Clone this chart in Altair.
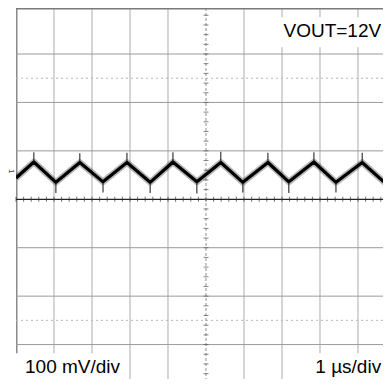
import altair as alt
import pandas as pd

# ---- data ----
# time in microseconds (1 us/div), voltage in mV relative to centre line (100 mV/div)
trace_t = [0.0, 0.47, 1.05, 1.68, 2.29, 2.92, 3.53, 4.13, 4.76, 5.39, 5.97, 6.63, 7.18, 7.84, 8.42, 9.11, 9.68, 9.87]
trace_v = [44, 77, 35, 76, 36, 76, 35, 77, 36, 76, 35, 76, 36, 77, 35, 76, 36, 49]

peak_t = [0.47, 1.68, 2.92, 4.13, 5.39, 6.63, 7.84, 9.11]
peak_v = [77, 76, 76, 77, 76, 76, 77, 76]
peak_spike = [97, 95, 96, 97, 98, 96, 97, 96]
trough_t = [1.05, 2.29, 3.53, 4.76, 5.97, 7.18, 8.42]
trough_v = [35, 36, 35, 36, 35, 36, 35]
trough_spike = [13, 14, 13, 12, 14, 13, 14]

grid_t = [1, 2, 3, 4, 6, 7, 8, 9]
grid_v = [300, 200, 100, -100, -200, -300]
dash_v = [250, -250]
top_v = [394]
center_t = [5]
center_v = [0]
xtick_t = [i / 5 for i in range(0, 49)]
ytick_v = [i * 20 for i in range(-18, 20)]

labels = ["VOUT=12V", "100 mV/div", "1 \u00b5s/div"]
label_t = [9.61, 0.237, 9.61]
label_v = [335, -358, -358]
label_align = ["right", "left", "right"]

box_t1 = [6.97, -0.3, 7.47]
box_t2 = [9.66, 2.92, 9.66]
box_v1 = [376, -318, -318]
box_v2 = [314, -372, -372]

X_MAX = 9.658
Y_MIN, Y_MAX = -371.1, 395.0

xs = alt.Scale(domain=[0, X_MAX], nice=False, zero=False)
ys = alt.Scale(domain=[Y_MIN, Y_MAX], nice=False, zero=False)
FONT = "Liberation Sans"


def X(f="t"):
    return alt.X(f"{f}:Q", scale=xs, axis=None)


def Y(f="v"):
    return alt.Y(f"{f}:Q", scale=ys, axis=None)


vgrid = alt.Chart(pd.DataFrame({"t": grid_t})).mark_rule(color="#ababab", strokeWidth=1).encode(x=X())
left_border = alt.Chart(pd.DataFrame({"t": [0.02]})).mark_rule(color="#8a8a8a", strokeWidth=1.5).encode(x=X())
hgrid = alt.Chart(pd.DataFrame({"v": grid_v})).mark_rule(color="#9a9a9a", strokeWidth=1).encode(y=Y())
hdash = alt.Chart(pd.DataFrame({"v": dash_v})).mark_rule(color="#b8b8b8", strokeWidth=1, strokeDash=[2, 3]).encode(y=Y())
top_border = alt.Chart(pd.DataFrame({"v": top_v})).mark_rule(color="#7a7a7a", strokeWidth=2).encode(y=Y())
vcenter = alt.Chart(pd.DataFrame({"t": center_t})).mark_rule(color="#909090", strokeWidth=1, strokeDash=[3, 2]).encode(x=X())
hcenter = alt.Chart(pd.DataFrame({"v": center_v})).mark_rule(color="#222222", strokeWidth=1.2).encode(y=Y())

xticks = alt.Chart(pd.DataFrame({"t": xtick_t, "v": [0] * len(xtick_t)})).mark_tick(
    orient="vertical", size=5, thickness=1, color="#333333").encode(x=X(), y=Y())
yticks = alt.Chart(pd.DataFrame({"t": [5] * len(ytick_v), "v": ytick_v})).mark_tick(
    orient="horizontal", size=5, thickness=1, color="#555555").encode(x=X(), y=Y())

trace_df = pd.DataFrame({"t": trace_t, "v": trace_v})
fuzz = alt.Chart(trace_df).mark_line(color="#000000", strokeWidth=6.5, opacity=0.28, strokeJoin="round", clip=True).encode(x=X(), y=Y())
core = alt.Chart(trace_df).mark_line(color="#000000", strokeWidth=3.2, strokeJoin="round", clip=True).encode(x=X(), y=Y())

spikes_up = alt.Chart(pd.DataFrame({"t": peak_t, "v": peak_v, "v2": peak_spike})).mark_rule(
    color="#111111", strokeWidth=1).encode(x=X(), y=Y(), y2="v2:Q")
spikes_dn = alt.Chart(pd.DataFrame({"t": trough_t, "v": trough_v, "v2": trough_spike})).mark_rule(
    color="#111111", strokeWidth=1).encode(x=X(), y=Y(), y2="v2:Q")

boxes = alt.Chart(pd.DataFrame({"t": box_t1, "t2": box_t2, "v": box_v1, "v2": box_v2})).mark_rect(
    color="white").encode(x=X(), x2="t2:Q", y=Y(), y2="v2:Q")

lab_df = pd.DataFrame({"t": label_t, "v": label_v, "txt": labels, "al": label_align})
lab_r = alt.Chart(lab_df[lab_df.al == "right"]).mark_text(
    font=FONT, fontSize=19, align="right", baseline="alphabetic", color="#000000").encode(x=X(), y=Y(), text="txt:N")
lab_l = alt.Chart(lab_df[lab_df.al == "left"]).mark_text(
    font=FONT, fontSize=19, align="left", baseline="alphabetic", color="#000000").encode(x=X(), y=Y(), text="txt:N")

ch_marker = alt.Chart(pd.DataFrame({"t": [-0.13], "v": [58], "txt": ["1"]})).mark_text(
    font=FONT, fontSize=8, angle=90, color="#333333").encode(x=X(), y=Y(), text="txt:N")

chart = alt.layer(
    vgrid, left_border, hgrid, hdash, vcenter, hcenter, xticks, yticks,
    boxes, top_border, fuzz, core, spikes_up, spikes_dn, lab_r, lab_l, ch_marker
).properties(
    width=367, height=371,
    autosize=alt.AutoSizeParams(type="none"),
    padding={"left": 8, "top": 0, "right": 0, "bottom": 0},
).configure_view(stroke=None)

chart.save("out.html", embed_options={"renderer": "svg", "actions": False})
